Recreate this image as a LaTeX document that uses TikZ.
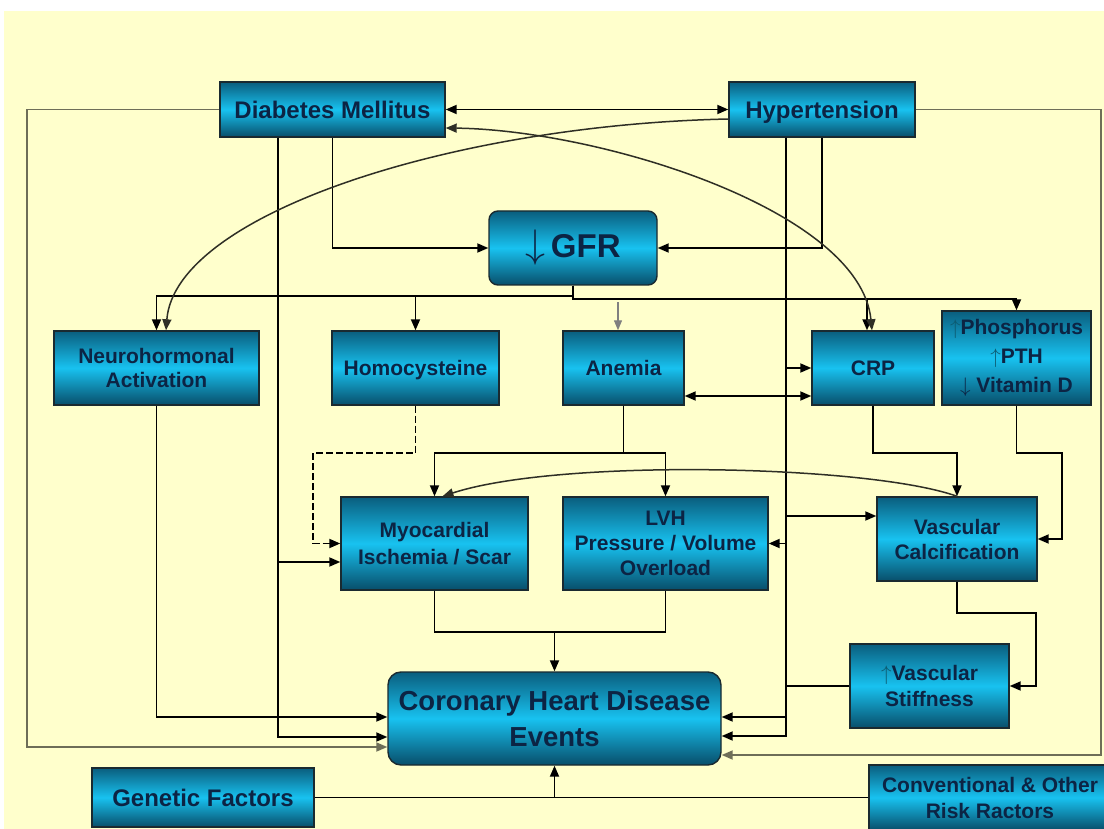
\RequirePackage{fix-cm}
\documentclass[tikz,border=0pt]{standalone}
\usepackage{fontspec}
\setmainfont{Liberation Sans}
\usetikzlibrary{arrows.meta,calc}
\definecolor{bgyellow}{HTML}{FFFFCC}
\definecolor{boxdark}{HTML}{0A5E7E}
\definecolor{boxdarkb}{HTML}{084E6A}
\definecolor{boxlight}{HTML}{18C2F0}
\definecolor{boxline}{HTML}{1A2A30}
\definecolor{txt}{HTML}{0C2444}
\definecolor{framec}{HTML}{6E6E58}
\definecolor{curvec}{HTML}{2F2F25}
\definecolor{arrowc}{HTML}{0C5A70}
\newcommand{\fsz}[2]{\fontsize{#1pt}{#2pt}\selectfont}
\newcommand{\upa}{\textcolor{arrowc}{$\uparrow$}}
\newcommand{\dna}{$\downarrow$}
\begin{document}
\begin{tikzpicture}[x=1pt,y=-1pt,
  box/.style={draw=boxline, line width=1.4pt, top color=boxdark, bottom color=boxdarkb, middle color=boxlight,
    align=center, text=txt, font=\bfseries\fsz{21}{25}, inner sep=0pt},
  arr/.style={line width=1.8pt, -{Triangle[length=11pt,width=9pt]}},
  dbl/.style={line width=1.8pt, {Triangle[length=11pt,width=9pt]}-{Triangle[length=11pt,width=9pt]}},
  ln/.style={line width=1.8pt},
  curv/.style={draw=curvec, line width=1.5pt},
  thinarr/.style={draw=gray, line width=1.2pt, -{Triangle[length=10pt,width=8pt]}}]
\useasboundingbox (0,0) rectangle (1104,829);
\fill[white] (0,0) rectangle (1104,829);
\fill[bgyellow] (4,11) rectangle (1104,829);

% nodes
\node[box, minimum width=225, minimum height=55, font=\bfseries\fsz{24}{28}] (dm) at (332.5,109.5) {Diabetes Mellitus};
\node[box, minimum width=186, minimum height=55, text depth=0pt, font=\bfseries\fsz{24}{28}] (ht) at (822,109.5) {Hypertension};
\node[box, minimum width=168, minimum height=74, rounded corners=9pt, font=\bfseries\fsz{33}{36}] (gfr) at (573,248) {{\fontsize{40}{40}\selectfont\dna}\,GFR};
\node[box, minimum width=205, minimum height=74, font=\bfseries\fsz{21}{24}] (neuro) at (156.5,368) {Neurohormonal\\Activation};
\node[box, minimum width=167, minimum height=74, text depth=0pt] (homo) at (415.5,368) {Homocysteine};
\node[box, minimum width=121, minimum height=74] (anem) at (623.5,368) {Anemia};
\node[box, minimum width=122, minimum height=74] (crp) at (873,368) {CRP};
\node[box, minimum width=149, minimum height=94, font=\bfseries\fsz{21}{29}] (phos) at (1016.5,358) {\upa Phosphorus\\\upa PTH\\\dna\ Vitamin D};
\node[box, minimum width=187, minimum height=93, font=\bfseries\fsz{21}{27}] (myo) at (434.5,543.5) {Myocardial\\Ischemia / Scar};
\node[box, minimum width=205, minimum height=93] (lvh) at (665.5,543.5) {LVH\\Pressure / Volume\\Overload};
\node[box, minimum width=160, minimum height=84] (vcal) at (957,539) {Vascular\\Calcification};
\node[box, minimum width=159, minimum height=84, font=\bfseries\fsz{21}{26}] (vst) at (929.5,686) {\upa Vascular\\Stiffness};
\node[box, minimum width=333, minimum height=93, rounded corners=13pt, font=\bfseries\fsz{27.5}{36}] (chd) at (554.5,718.5) {Coronary Heart Disease\\Events};
\node[box, minimum width=222, minimum height=59, font=\bfseries\fsz{24}{28}] (gen) at (203,797.5) {Genetic Factors};
\node[box, minimum width=242, minimum height=65, font=\bfseries\fsz{21}{26}] (conv) at (990,797.5) {Conventional \& Other\\Risk Ractors};

% top links
\draw[dbl] (dm.east) -- (ht.west);
\draw[arr] (dm.south) |- (gfr.west);
\draw[arr] (ht.south) |- (gfr.east);

% diabetes long vertical
\draw[arr] ([xshift=-54.5pt]dm.south) |- ([yshift=-18.5pt]myo.west);
\draw[arr] ([xshift=-54.5pt]dm.south) |- ([yshift=-18.5pt]chd.west);

% hypertension long vertical
\draw[arr] ([xshift=-36pt]ht.south) |- (crp.west);
\draw[arr] ([xshift=-36pt]ht.south) |- ([yshift=23pt]vcal.west);
\draw[arr] ([xshift=-36pt]ht.south) |- (lvh.east);
\draw[arr] ([xshift=-36pt]ht.south) |- ([yshift=1.5pt]chd.east);
\draw[arr] ([xshift=-36pt]ht.south) |- ([yshift=-17.5pt]chd.east);
\draw[ln] (vst.west) -| ([xshift=-36pt]ht.south);

% GFR distribution
\draw[arr] (gfr.south) -- ++(0,10) -| (neuro.north);
\draw[arr] (gfr.south) -- ++(0,10) -| (homo.north);
\draw[arr] (gfr.south) -- ++(0,13) -| (phos.north);
\draw[arr] (gfr.south) -- ++(0,13) -| ([xshift=-6pt]crp.north);
\draw[thinarr] ([xshift=-5.5pt,yshift=28pt]anem.north) -- ([xshift=-5.5pt]anem.north);

% middle row
\draw[dbl] ([yshift=-28pt]anem.east) -- ([yshift=-28pt]crp.west);
\draw[arr] (anem.south) -- ++(0,47) -| (myo.north);
\draw[arr] (anem.south) -- ++(0,47) -| (lvh.north);
\draw[arr] (crp.south) -- ++(0,47) -| (vcal.north);
\draw[arr] (phos.south) -- ++(0,47) -- ++(45.5,0) |- (vcal.east);
\draw[arr] (vcal.south) -- ++(0,31) -- ++(79,0) |- (vst.east);
\draw[arr, dash pattern=on 7pt off 3pt] (homo.south) -- ++(0,47) -- ++(-102.5,0) |- (myo.west);

% into CHD
\draw[arr] (neuro.south) |- ([yshift=1.5pt]chd.west);
\draw[ln] (myo.south) -- ++(0,41) -| (lvh.south);
\draw[arr] (myo.south) -- ++(0,41) -| (chd.north);
\draw[arr] (gen.east) -| (chd.south);
\draw[ln] (conv.west) -- (conv.west -| chd.south);

% frame lines
\draw[arr, draw=framec] (dm.west) -- ++(-192,0) |- ([yshift=-28.5pt]chd.west);
\draw[arr, draw=framec] (ht.east) -- ++(185,0) |- ([yshift=-36.5pt]chd.east);

% curves
\draw[curv, -{Triangle[length=11pt,width=9pt]}] ([yshift=-9.5pt]ht.west) .. controls (450,125) and (175,215) .. ([xshift=9.5pt]neuro.north);
\draw[curv, {Triangle[length=11pt,width=9pt]}-{Triangle[length=11pt,width=9pt]}] ([yshift=-18.5pt]dm.east) .. controls (600,130) and (860,210) .. ([xshift=-1pt]crp.north);
\draw[curv, -{Triangle[length=11pt,width=9pt]}] (vcal.north) .. controls (870,465) and (560,458) .. ([xshift=8pt]myo.north);
\end{tikzpicture}
\end{document}
